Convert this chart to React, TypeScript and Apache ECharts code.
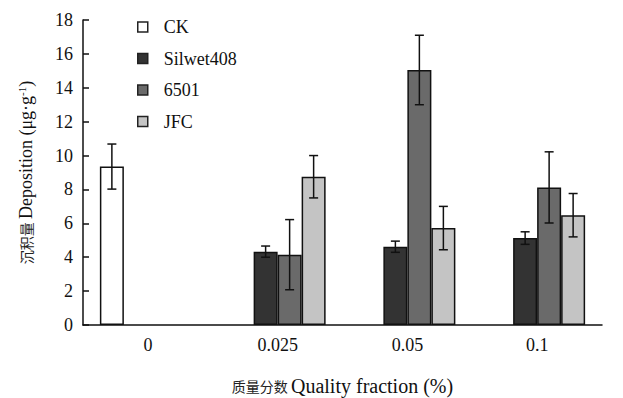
import React, { useEffect, useRef } from "react";
import * as echarts from "echarts";

const categories = ["0", "0.025", "0.05", "0.1"];
const seriesNames = ["CK", "Silwet408", "6501", "JFC"];
const ckValues = [9.35, null, null, null];
const silwetValues = [null, 4.33, 4.62, 5.13];
const s6501Values = [null, 4.15, 15.05, 8.12];
const jfcValues = [null, 8.75, 5.72, 6.48];
const ckErr = [1.33, null, null, null];
const silwetErr = [null, 0.33, 0.33, 0.37];
const s6501Err = [null, 2.07, 2.05, 2.1];
const jfcErr = [null, 1.25, 1.28, 1.28];
const colors = ["#ffffff", "#333333", "#6a6a6a", "#c4c4c4"];
const yTicks = { min: 0, max: 18, interval: 2 };

const FONT = "'Liberation Serif', 'Times New Roman', 'Noto Sans CJK SC', serif";
const CJK = "'Noto Sans CJK SC', serif";
const BAR_W = 24;

export default function App() {
  const ref = useRef<HTMLDivElement>(null);
  useEffect(() => {
    if (!ref.current) return;
    const chart = echarts.init(ref.current, undefined, { renderer: "svg" });
    const values = [ckValues, silwetValues, s6501Values, jfcValues];
    const errs = [ckErr, silwetErr, s6501Err, jfcErr];

    const barSeries = seriesNames.map((name, i) => ({
      name,
      type: "bar",
      data: values[i],
      barWidth: BAR_W,
      barGap: "0%",
      itemStyle: { color: colors[i], borderColor: "#111", borderWidth: 1.5 },
      z: 2,
    }));

    const errSeries = seriesNames.map((name, i) => ({
      type: "custom",
      name: name + "_err",
      data: values[i]
        .map((v, k) => (v == null ? null : [k, v, errs[i][k]]))
        .filter((d) => d != null),
      z: 5,
      renderItem: (params: any, api: any) => {
        const k = api.value(0);
        const v = api.value(1);
        const e = api.value(2);
        const off = (i - 1.5) * BAR_W;
        const top = api.coord([k, v + e]);
        const bot = api.coord([k, v - e]);
        const x = top[0] + off;
        const cap = 4.5;
        const st = { stroke: "#111", lineWidth: 1.5 };
        return {
          type: "group",
          children: [
            { type: "line", shape: { x1: x, y1: top[1], x2: x, y2: bot[1] }, style: st },
            { type: "line", shape: { x1: x - cap, y1: top[1], x2: x + cap, y2: top[1] }, style: st },
            { type: "line", shape: { x1: x - cap, y1: bot[1], x2: x + cap, y2: bot[1] }, style: st },
          ],
        };
      },
      encode: { x: 0, y: 1 },
    }));

    chart.setOption({
      animation: false,
      backgroundColor: "#ffffff",
      textStyle: { fontFamily: FONT },
      grid: { left: 83, right: 21, top: 20, bottom: 73, outerBoundsMode: "none", containLabel: false },
      legend: {
        data: seriesNames,
        orient: "vertical",
        left: 132,
        top: 13,
        itemWidth: 10,
        itemHeight: 10,
        itemGap: 13.5,
        icon: "rect",
        itemStyle: { borderColor: "#222", borderWidth: 1.5 },
        textStyle: { fontFamily: FONT, fontSize: 18, color: "#111", padding: [0, 0, 0, 11], lineHeight: 18 },
      },
      xAxis: {
        type: "category",
        data: categories,
        boundaryGap: true,
        axisLine: { lineStyle: { color: "#111", width: 1.5 } },
        axisTick: { inside: true, length: 6, lineStyle: { color: "#111", width: 1.5 } },
        axisLabel: { fontFamily: FONT, fontSize: 18, color: "#111", margin: 11 },
        name: "{c|质量分数 }{a|Quality fraction (%)}",
        nameLocation: "middle",
        nameGap: 51,
        nameTextStyle: {
          fontFamily: FONT,
          fontSize: 18,
          color: "#111",
          rich: {
            c: { fontFamily: CJK, fontSize: 14, color: "#222" },
            a: { fontFamily: FONT, fontSize: 20, color: "#111" },
          },
        },
      },
      yAxis: {
        type: "value",
        min: yTicks.min,
        max: yTicks.max,
        interval: yTicks.interval,
        splitLine: { show: false },
        axisLine: { show: true, lineStyle: { color: "#111", width: 1.5 } },
        axisTick: { show: true, inside: true, length: 6, lineStyle: { color: "#111", width: 1.5 } },
        axisLabel: { fontFamily: FONT, fontSize: 18, color: "#111", margin: 10 },
        name: "{c|沉积量 }{a|Deposition (μg·g}{s|-1}{a|)}",
        nameLocation: "middle",
        nameGap: 47,
        nameTextStyle: {
          fontFamily: FONT,
          fontSize: 18,
          color: "#111",
          rich: {
            c: { fontFamily: CJK, fontSize: 14, color: "#222" },
            a: { fontFamily: FONT, fontSize: 18, color: "#111" },
            s: { fontFamily: FONT, fontSize: 11, color: "#111", verticalAlign: "top", padding: [0, 0, 9, 0] },
          },
        },
      },
      series: [...barSeries, ...errSeries],
    });
    return () => chart.dispose();
  }, []);
  return <div ref={ref} style={{ width: 623, height: 398, position: "absolute", left: 0, top: 0 }} />;
}
